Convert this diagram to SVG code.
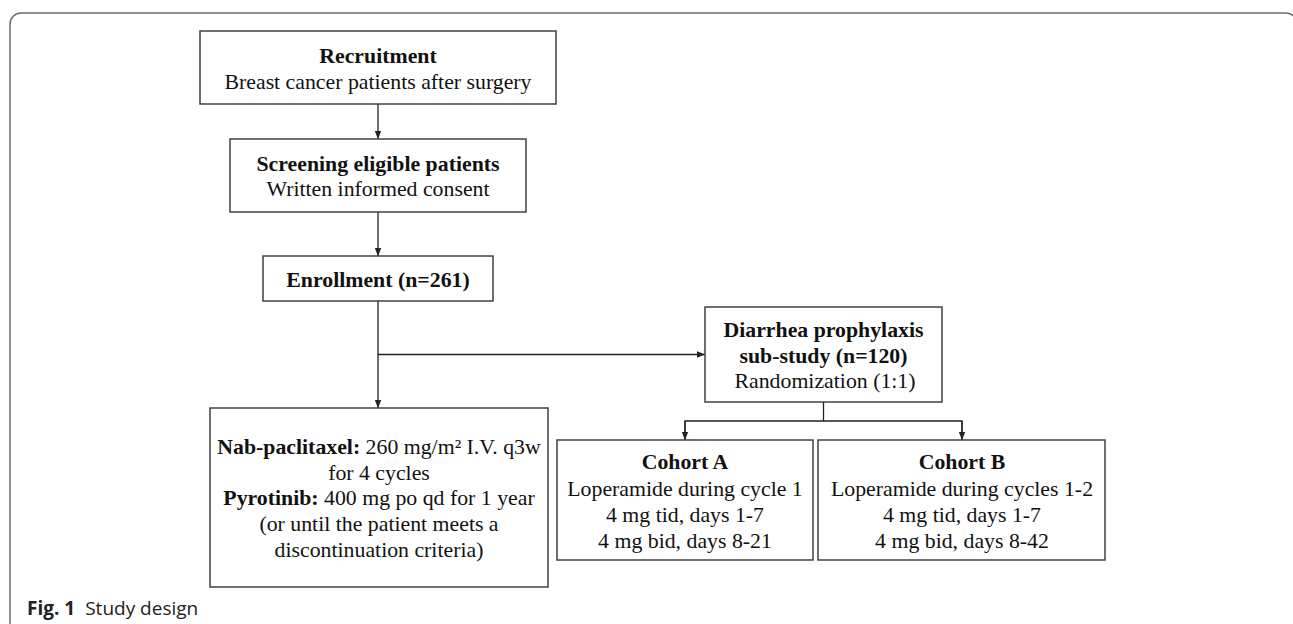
<svg xmlns="http://www.w3.org/2000/svg" width="1293" height="624" viewBox="0 0 1293 624">
<style>
.frame{fill:none;stroke:#6b6b6b;stroke-width:1.5}
.box{fill:#fff;stroke:#404040;stroke-width:1.5}
.t{font-family:"Liberation Serif","Times New Roman",serif;font-size:21.8px;fill:#111;text-anchor:middle}
.b{font-weight:bold}
.c{fill:none;stroke:#222;stroke-width:1.3}
.cap{font-family:"Open Sans","Noto Sans",sans-serif;font-size:19px;fill:#222}
</style>
<defs>
<marker id="ah" viewBox="0 0 8 8" refX="8" refY="4" markerWidth="8" markerHeight="8" markerUnits="userSpaceOnUse" orient="auto">
<path d="M0,0.8 L8,4 L0,7.2 Z" fill="#222"/>
</marker>
</defs>
<rect width="1293" height="624" fill="#fff"/>
<rect class="frame" x="10" y="13" width="1287" height="700" rx="11"/>

<g id="connectors">
<line class="c" x1="378" y1="104" x2="378" y2="139" marker-end="url(#ah)"/>
<line class="c" x1="378" y1="212" x2="378" y2="256" marker-end="url(#ah)"/>
<line class="c" x1="378" y1="301" x2="378" y2="408" marker-end="url(#ah)"/>
<line class="c" x1="378" y1="354.5" x2="705" y2="354.5" marker-end="url(#ah)"/>
<line class="c" x1="823.5" y1="402" x2="823.5" y2="421"/>
<polyline class="c" points="685,440 685,421 962,421 962,440" fill="none"/>
<line class="c" x1="685" y1="421" x2="685" y2="440" marker-end="url(#ah)"/>
<line class="c" x1="962" y1="421" x2="962" y2="440" marker-end="url(#ah)"/>
</g>

<g id="recruitment">
<rect class="box" x="200" y="31" width="356" height="73"/>
<text class="t b" x="378" y="62.5">Recruitment</text>
<text class="t" x="378" y="88.5">Breast cancer patients after surgery</text>
</g>

<g id="screening">
<rect class="box" x="230" y="139" width="296" height="73"/>
<text class="t b" x="378" y="171">Screening eligible patients</text>
<text class="t" x="378" y="196">Written informed consent</text>
</g>

<g id="enrollment">
<rect class="box" x="263" y="256" width="230" height="45"/>
<text class="t b" x="378" y="287">Enrollment (n=261)</text>
</g>

<g id="treatment">
<rect class="box" x="210" y="408" width="338" height="179"/>
<text class="t" x="379" y="454"><tspan class="b">Nab-paclitaxel:</tspan> 260 mg/m² I.V. q3w</text>
<text class="t" x="379" y="479.5">for 4 cycles</text>
<text class="t" x="379" y="505"><tspan class="b">Pyrotinib:</tspan> 400 mg po qd for 1 year</text>
<text class="t" x="379" y="531">(or until the patient meets a</text>
<text class="t" x="379" y="557">discontinuation criteria)</text>
</g>

<g id="substudy">
<rect class="box" x="705" y="307" width="237" height="95"/>
<text class="t b" x="823.5" y="337">Diarrhea prophylaxis</text>
<text class="t b" x="823.5" y="363">sub-study (n=120)</text>
<text class="t" x="825" y="388">Randomization (1:1)</text>
</g>

<g id="cohortA">
<rect class="box" x="557" y="440" width="256" height="120"/>
<text class="t b" x="685" y="469">Cohort A</text>
<text class="t" x="685" y="495.5">Loperamide during cycle 1</text>
<text class="t" x="685" y="521.5">4 mg tid, days 1-7</text>
<text class="t" x="685" y="547.5">4 mg bid, days 8-21</text>
</g>

<g id="cohortB">
<rect class="box" x="818" y="440" width="287" height="120"/>
<text class="t b" x="962" y="469">Cohort B</text>
<text class="t" x="962" y="495.5">Loperamide during cycles 1-2</text>
<text class="t" x="962" y="521.5">4 mg tid, days 1-7</text>
<text class="t" x="962" y="547.5">4 mg bid, days 8-42</text>
</g>

<g id="caption">
<text class="cap" x="27" y="615"><tspan font-weight="bold">Fig. 1</tspan><tspan dx="10">Study design</tspan></text>
</g>
</svg>
